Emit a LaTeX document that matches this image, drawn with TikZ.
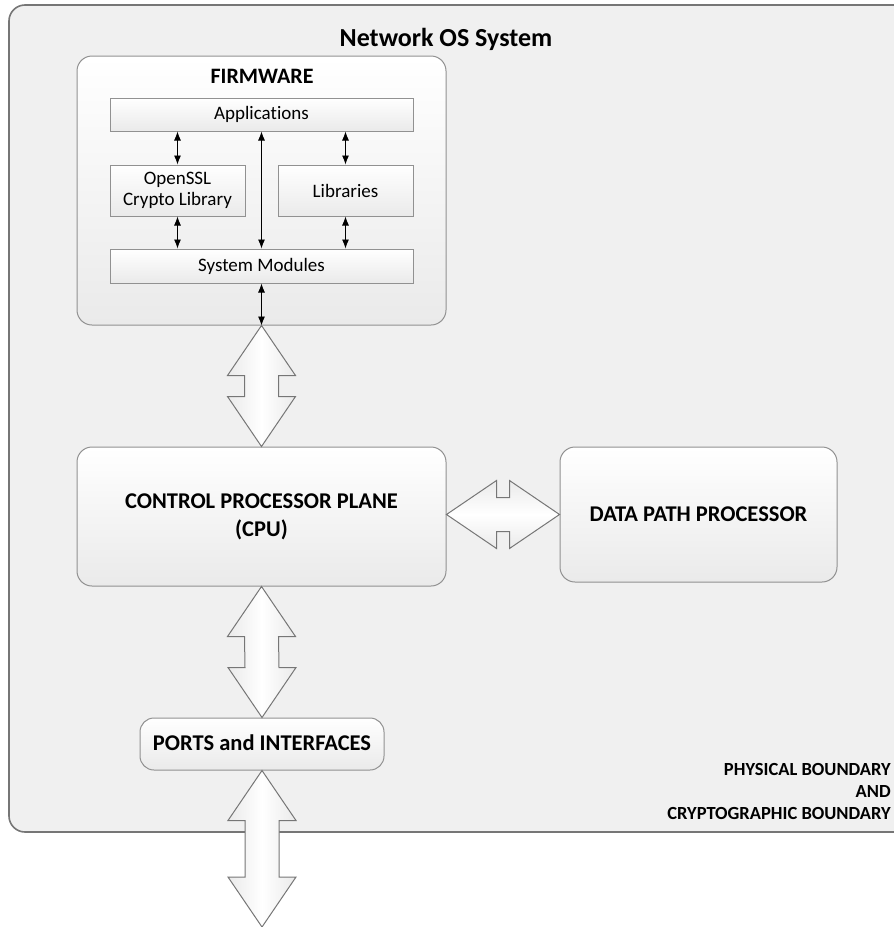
\documentclass[tikz,border=0pt]{standalone}
\usepackage{fontspec}
\setmainfont{Carlito}[Ligatures=NoCommon]
\usetikzlibrary{calc,arrows.meta}
\definecolor{bgfill}{HTML}{F0F0F0}
\definecolor{edge}{HTML}{767676}
\definecolor{boxbot}{HTML}{EAEAEA}
\tikzset{
  outerbox/.style={draw=edge, line width=1.6pt, fill=bgfill, rounded corners=16pt},
  roundbox/.style={draw=edge!80, line width=1pt, top color=white, bottom color=boxbot, rounded corners=15pt, inner sep=0pt},
  layerbox/.style={draw=edge!80, line width=1pt, top color=white, bottom color=boxbot, inner sep=0pt, font=\fontsize{19}{21}\selectfont, align=center},
  thin arrow/.style={{Latex[length=9pt,width=7pt]}-{Latex[length=9pt,width=7pt]}, line width=0.9pt, black},
  fatarrow/.style={draw=edge, line width=1pt, left color=boxbot, right color=boxbot, middle color=white, line join=miter},
  bold label/.style={font=\bfseries\fontsize{22.5}{28}\selectfont, align=center},
}
\newcommand\vfat[2]{%
  \path[fatarrow] (#1) -- ++(34,50) -- ++(-17,0) -- ($(#2)+(17,-50)$) -- ++(17,0) -- (#2)
    -- ++(-34,-50) -- ++(17,0) -- ($(#1)+(-17,50)$) -- ++(-17,0) -- cycle;}
\newcommand\hfat[2]{%
  \path[fatarrow,top color=boxbot,bottom color=boxbot,middle color=white] (#1) -- ++(50,-34) -- ++(0,17) -- ($(#2)+(-50,-17)$) -- ++(0,-17) -- (#2)
    -- ++(-50,34) -- ++(0,-17) -- ($(#1)+(50,17)$) -- ++(0,17) -- cycle;}
\begin{document}
\begin{tikzpicture}[x=1pt,y=-1pt]
\useasboundingbox (0,0) rectangle (894,927);
\clip (0,0) rectangle (894,927);
% outer boundary
\draw[outerbox] (9,5) rectangle (912,832);
\node[font=\bfseries\fontsize{26}{30}\selectfont] (title) at (446,39) {Network OS System};
% firmware
\node[roundbox, minimum width=369pt, minimum height=269pt] (fw) at (261.5,190.5) {};
\node[font=\bfseries\fontsize{22}{26}\selectfont] (fwlabel) at (262,76) {FIRMWARE};
\node[layerbox, minimum width=303pt, minimum height=33pt] (app) at (261.5,114.5) {Applications};
\node[layerbox, minimum width=135pt, minimum height=51pt] (ssl) at (177.5,190.5) {OpenSSL\\Crypto Library};
\node[layerbox, minimum width=135pt, minimum height=51pt] (lib) at (345.5,190.5) {Libraries};
\node[layerbox, minimum width=303pt, minimum height=34pt] (sys) at (261.5,266) {System Modules};
\draw[thin arrow] (app.south -| ssl.north) -- (ssl.north);
\draw[thin arrow] (app.south -| lib.north) -- (lib.north);
\draw[thin arrow] (app.south) -- (sys.north);
\draw[thin arrow] (ssl.south) -- (sys.north -| ssl.south);
\draw[thin arrow] (lib.south) -- (sys.north -| lib.south);
\draw[thin arrow] (sys.south) -- (sys.south |- fw.south);
% cpu etc
\node[roundbox, minimum width=369pt, minimum height=139pt, bold label] (cpu) at (261.5,516.5) {CONTROL PROCESSOR PLANE\\(CPU)};
\node[roundbox, minimum width=277pt, minimum height=135pt, bold label] (dpp) at (698.5,514.5) {DATA PATH PROCESSOR};
\node[roundbox, rounded corners=14pt, minimum width=244pt, minimum height=52pt, bold label] (ports) at (262,744) {\raisebox{3pt}{PORTS and INTERFACES}};
\coordinate (ext) at (262,927);
\vfat{fw.south}{cpu.north}
\vfat{cpu.south}{ports.north}
\vfat{ports.south}{ext}
\hfat{cpu.east |- dpp.west}{dpp.west}
\node[anchor=east, align=right, inner sep=0pt, font=\bfseries\fontsize{18.5}{22}\selectfont] (bound) at (891,791) {PHYSICAL BOUNDARY\\AND\\CRYPTOGRAPHIC BOUNDARY};
\end{tikzpicture}
\end{document}
